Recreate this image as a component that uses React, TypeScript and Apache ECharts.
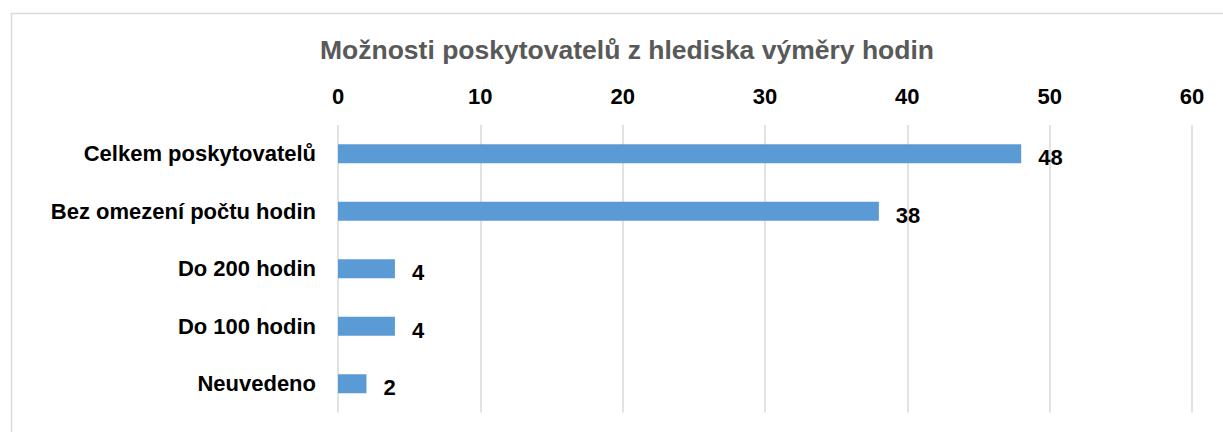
import React, { useEffect, useRef } from "react";
import * as echarts from "echarts";

const categories = [
  "Celkem poskytovatelů",
  "Bez omezení počtu hodin",
  "Do 200 hodin",
  "Do 100 hodin",
  "Neuvedeno",
];
const values = [48, 38, 4, 4, 2];
const titleText = "Možnosti poskytovatelů z hlediska výměry hodin";

const FONT = "Liberation Sans, Arial, sans-serif";

export default function App() {
  const ref = useRef<HTMLDivElement>(null);
  useEffect(() => {
    document.body.style.margin = "0";
    const chart = echarts.init(ref.current!, null, { renderer: "svg" });
    chart.setOption({
      animation: false,
      backgroundColor: "#ffffff",
      textStyle: { fontFamily: FONT },
      title: {
        text: titleText,
        left: 622,
        textAlign: "center",
        top: 31,
        textStyle: {
          color: "#595959",
          fontSize: 26.5,
          fontWeight: "bold",
          fontFamily: FONT,
        },
      },
      graphic: [
        {
          type: "rect",
          left: 9,
          top: 11,
          shape: { width: 1400, height: 600 },
          style: { fill: "none", stroke: "#d9d9d9", lineWidth: 1.5 },
          silent: true,
          z: -1,
        },
      ],
      grid: { left: 338, right: 31, top: 125, bottom: 19.5, containLabel: false },
      xAxis: {
        type: "value",
        position: "top",
        min: 0,
        max: 60,
        interval: 10,
        axisLine: { show: false },
        axisTick: { show: false },
        axisLabel: {
          color: "#000000",
          fontSize: 22,
          fontWeight: "bold",
          margin: 18,
          fontFamily: FONT,
        },
        splitLine: { show: true, lineStyle: { color: "#d9d9d9", width: 1.5 } },
      },
      yAxis: {
        type: "category",
        data: categories,
        inverse: true,
        axisLine: { show: false },
        axisTick: { show: false },
        axisLabel: {
          color: "#000000",
          fontSize: 22,
          fontWeight: "bold",
          margin: 22,
          fontFamily: FONT,
        },
      },
      series: [
        {
          type: "bar",
          data: values,
          barWidth: 19,
          itemStyle: { color: "#5B9BD5" },
          label: {
            show: true,
            position: "right",
            distance: 17,
            offset: [0, 4],
            color: "#000000",
            fontSize: 22,
            fontWeight: "bold",
            fontFamily: FONT,
          },
        },
      ],
    });
    return () => chart.dispose();
  }, []);
  return <div ref={ref} style={{ width: 1223, height: 432 }} />;
}
